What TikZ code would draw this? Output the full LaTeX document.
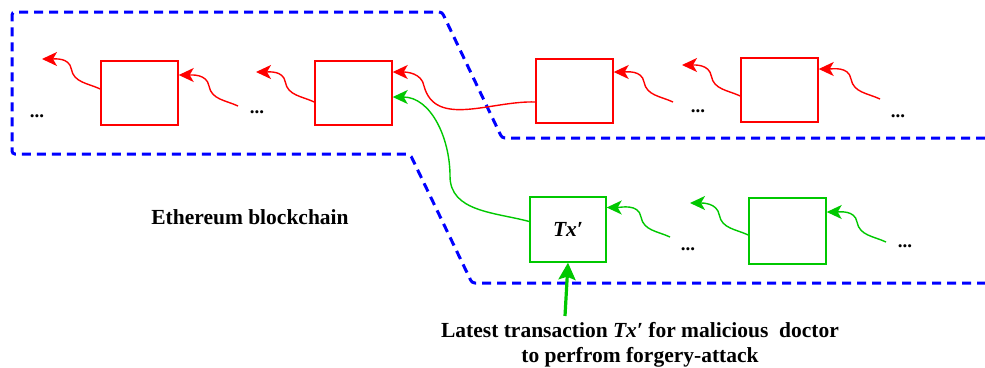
\documentclass[tikz,border=0pt]{standalone}
\usepackage{fontspec}
\setmainfont{Liberation Serif}
\usetikzlibrary{arrows.meta}
\definecolor{forkgreen}{RGB}{0,200,0}

\begin{document}
\begin{tikzpicture}[x=1pt,y=-1pt,
  block/.style={draw,line width=1.4pt,minimum width=77pt,minimum height=64pt},
  link/.style={line width=1.4pt,-{Stealth[length=15pt,width=14pt,inset=4pt]}},
  dots/.style={font=\fontsize{19}{22}\selectfont\bfseries},
  chain/.style={blue,line width=3pt,dash pattern=on 9pt off 6pt,rounded corners=3pt},
  big/.style={font=\fontsize{21.5}{25}\selectfont\bfseries}]

  \useasboundingbox (0,0) rectangle (985,367);

  % blockchain boundary
  \draw[chain] (985,138) -- (502,138) -- (442,12) -- (12,12) -- (12,154)
    -- (410,154) -- (472,283) -- (985,283);

  \node[big] (eth) at (250,217) {Ethereum blockchain};

  % free ends
  \coordinate (e1) at (42,59);
  \coordinate (s2) at (238,106);
  \coordinate (e3) at (256,72);
  \coordinate (s5) at (673,102);
  \coordinate (e6) at (682,65);
  \coordinate (s7) at (880,99);
  \coordinate (s8) at (670,237);
  \coordinate (e9) at (690,203);
  \coordinate (s10) at (886,242);
  \coordinate (att) at (565,316);

  \node[dots] (d1) at (37,116) {...};
  \node[dots] (d2) at (257,112) {...};
  \node[dots] (d3) at (698,111) {...};
  \node[dots] (d4) at (898,116) {...};
  \node[dots] (d5) at (688,249) {...};
  \node[dots] (d6) at (905,246) {...};

  % main chain
  \begin{scope}[red]
    \node[block] (r1) at (139.5,93) {};
    \node[block] (r2) at (353.5,93) {};
    \node[block] (r3) at (574.5,91) {};
    \node[block] (r4) at (779.5,90) {};
    \draw[link] ([yshift=4pt]r1.west) to[out=155,in=-80] ++(-29,-20) to[out=100,in=0] (e1);
    \draw[link] (s2) to[out=155,in=-80] ++(-29,-20) to[out=100,in=0] ([yshift=18pt]r1.east);
    \draw[link] ([yshift=-9pt]r2.west) to[out=155,in=-80] ++(-29,-20) to[out=100,in=0] (e3);
    \draw[link] ([yshift=-11pt]r3.west) to[out=178,in=-75] (424,86) to[out=100,in=0] ([yshift=21pt]r2.east);
    \draw[link] (s5) to[out=155,in=-80] ++(-29,-20) to[out=100,in=0] ([yshift=19pt]r3.east);
    \draw[link] ([yshift=-6pt]r4.west) to[out=155,in=-80] ++(-29,-20) to[out=100,in=0] (e6);
    \draw[link] (s7) to[out=155,in=-80] ++(-29,-20) to[out=100,in=0] ([yshift=21pt]r4.east);
  \end{scope}

  % forked chain
  \begin{scope}[forkgreen]
    \node[block,minimum width=76pt,minimum height=65pt,text=black,font=\fontsize{21.5}{25}\selectfont\bfseries\itshape] (g1) at (568,229.5) {Tx′};
    \node[block,minimum height=66pt] (g2) at (787.5,231) {};
    \draw[link] ([yshift=8pt]g1.west) to[out=165,in=-90] (450,176) to[out=90,in=0] ([yshift=-4pt]r2.east);
    \draw[link] (s8) to[out=155,in=-80] ++(-29,-20) to[out=100,in=0] ([yshift=22pt]g1.east);
    \draw[link] ([yshift=-4pt]g2.west) to[out=155,in=-80] ++(-29,-20) to[out=100,in=0] (e9);
    \draw[link] (s10) to[out=155,in=-80] ++(-29,-20) to[out=100,in=0] ([yshift=19pt]g2.east);
    \draw[line width=3.2pt,-{Stealth[length=17pt,width=17pt,inset=3pt]}] (att) -- (g1.south);
  \end{scope}

  \node[big,align=center] (note) at (640,345)
    {Latest transaction \textit{Tx′} for malicious\ \ doctor\\to perfrom forgery-attack};

\end{tikzpicture}
\end{document}
